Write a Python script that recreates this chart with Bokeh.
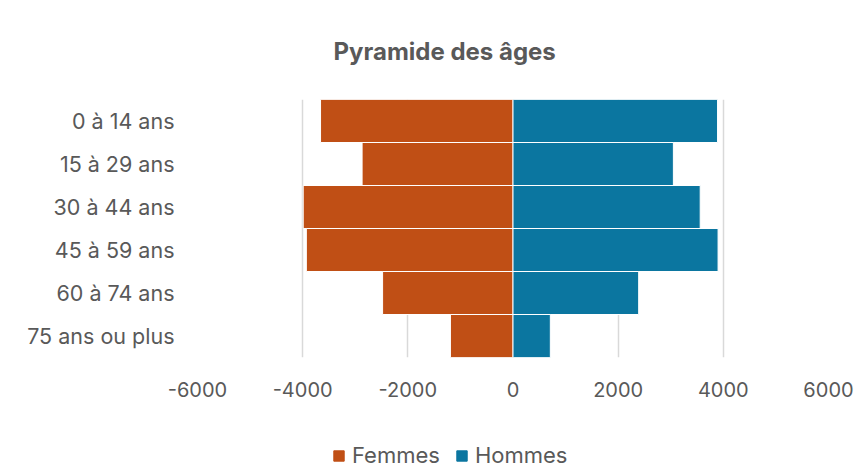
from bokeh.plotting import figure
from bokeh.layouts import column
from bokeh.models import FactorRange, Range1d, FixedTicker, Legend, LegendItem, ColumnDataSource
from bokeh.embed import file_html
from bokeh.resources import INLINE

# ---- data ----
categories = ["0 à 14 ans", "15 à 29 ans", "30 à 44 ans", "45 à 59 ans", "60 à 74 ans", "75 ans ou plus"]
femmes = [3660, 2870, 3990, 3930, 2480, 1190]
hommes = [3890, 3050, 3560, 3900, 2390, 710]
x_ticks = [-6000, -4000, -2000, 0, 2000, 4000, 6000]
x_tick_labels = ["-6000", "-4000", "-2000", "0", "2000", "4000", "6000"]
title_text = "Pyramide des âges"
series_names = ["Femmes", "Hommes"]

FONT = "Inter"
TXT = "#595959"
C_F = "#C04F15"
C_H = "#0B76A0"

src = ColumnDataSource(dict(cat=categories,
                            f=[-v for v in femmes],
                            h=hommes))

p = figure(width=864, height=420,
           y_range=FactorRange(factors=list(reversed(categories))),
           x_range=Range1d(-6000, 6000),
           output_backend="svg", toolbar_location=None,
           min_border_left=197, min_border_right=36,
           min_border_top=99, min_border_bottom=63)

p.hbar(y="cat", left=0, right="f", height=1.0, source=src,
       fill_color=C_F, line_color="white", line_width=1)
p.hbar(y="cat", left=0, right="h", height=1.0, source=src,
       fill_color=C_H, line_color="white", line_width=1)

p.outline_line_color = None
p.background_fill_color = "white"
p.border_fill_color = "white"

# title
p.title.text = title_text
p.title.align = "left"
p.title.offset = 136
p.title.vertical_align = "middle"
p.title.text_font = FONT
p.title.text_font_size = "24px"
p.title.text_font_style = "bold"
p.title.text_color = TXT
p.title.standoff = 66

# x axis
p.xaxis.ticker = FixedTicker(ticks=x_ticks)
p.xaxis.major_label_overrides = {t: l for t, l in zip(x_ticks, x_tick_labels)}
p.xaxis.axis_line_color = None
p.xaxis.major_tick_line_color = None
p.xaxis.minor_tick_line_color = None
p.xaxis.major_label_text_font = FONT
p.xaxis.major_label_text_font_size = "20px"
p.xaxis.major_label_text_color = TXT
p.xaxis.major_label_standoff = 18

# y axis
p.yaxis.axis_line_color = None
p.yaxis.major_tick_line_color = None
p.yaxis.minor_tick_line_color = None
p.yaxis.major_label_text_font = FONT
p.yaxis.major_label_text_font_size = "21.5px"
p.yaxis.major_label_text_color = TXT
p.yaxis.major_label_standoff = 17

# grid
p.ygrid.grid_line_color = None
p.xgrid.grid_line_color = "#d9d9d9"
p.xgrid.grid_line_width = 1.5

# ---- legend strip (separate figure under the chart, frames aligned by the column) ----
lg = figure(width=864, height=52, x_range=Range1d(-6000, 6000),
            y_range=FactorRange(factors=list(reversed(categories))),
            x_axis_type=None, y_axis_type=None,
            output_backend="svg", toolbar_location=None, min_border=0)
lg.outline_line_color = None
lg.grid.visible = False
lf = lg.hbar(y="cat", left=0, right="f", height=1.0, source=src,
             fill_color=C_F, line_color=C_F, visible=False)
lh = lg.hbar(y="cat", left=0, right="h", height=1.0, source=src,
             fill_color=C_H, line_color=C_H, visible=False)
legend = Legend(items=[LegendItem(label=series_names[0], renderers=[lf]),
                       LegendItem(label=series_names[1], renderers=[lh])],
                orientation="horizontal", location=(135, 4),
                glyph_width=13, glyph_height=13, label_standoff=7, spacing=15,
                padding=0, margin=0, border_line_color=None,
                label_text_font=FONT, label_text_font_size="22px",
                label_text_color=TXT, background_fill_alpha=0)
lg.add_layout(legend, "center")

layout = column(p, lg, spacing=0)
open("out.html", "w").write(file_html(layout, INLINE))
